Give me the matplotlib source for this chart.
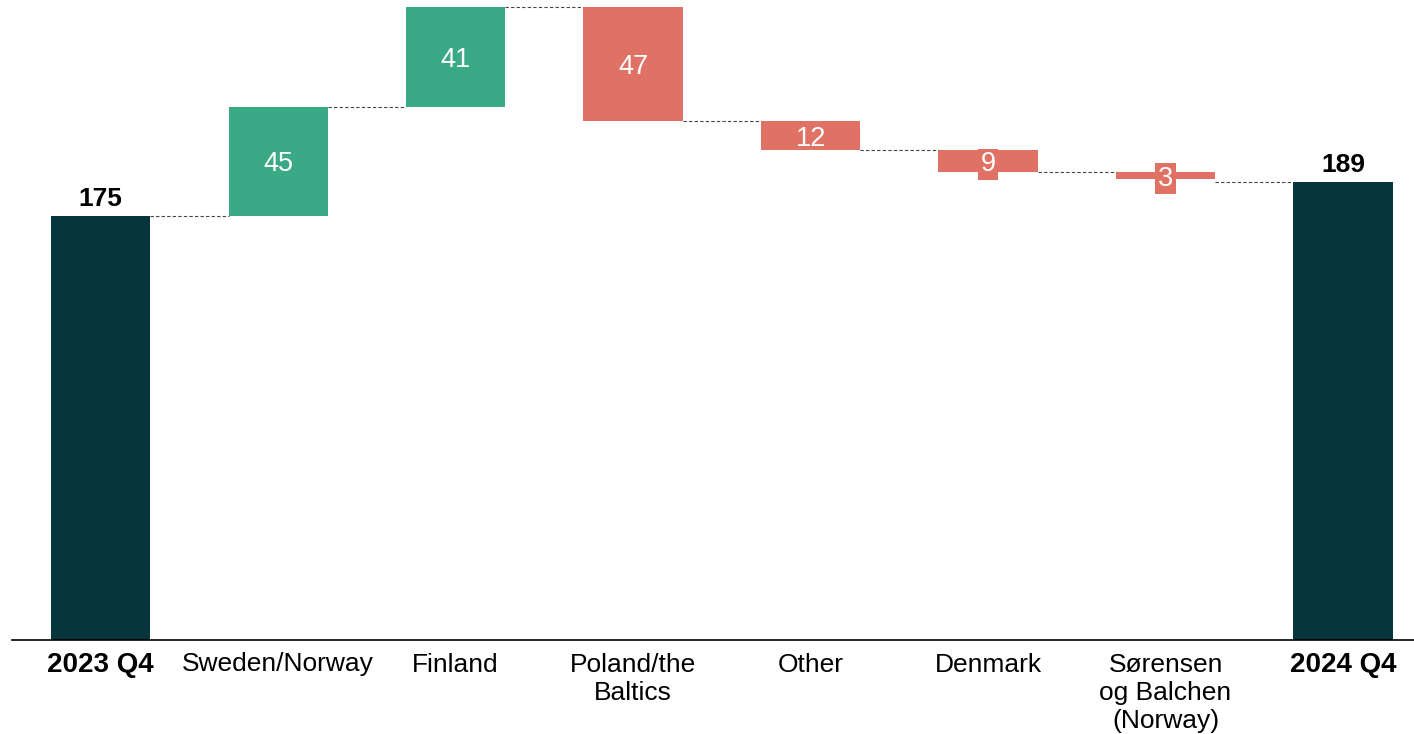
import numpy as np
import matplotlib.pyplot as plt

plt.rcParams['font.family'] = ['Liberation Sans', 'DejaVu Sans']

categories = ['2023 Q4', 'Sweden/Norway', 'Finland', 'Poland/the\nBaltics',
              'Other', 'Denmark', 'Sørensen\nog Balchen\n(Norway)', '2024 Q4']
start_value = 175
changes = [45, 41, -47, -12, -9, -3]
end_value = 189

pos_color = '#3aa986'
neg_color = '#e07165'
total_color = '#06363b'
width = 0.56

fig = plt.figure(figsize=(14.14, 7.34), dpi=100)
ax = fig.add_axes([12 / 1414, 94 / 734, 1 - 12 / 1414, 640 / 734])

x = np.arange(len(categories))

# running levels after each step
levels = [start_value]
for c in changes:
    levels.append(levels[-1] + c)

# totals
for xi, val in [(x[0], start_value), (x[-1], end_value)]:
    ax.bar(xi, val, width=width, color=total_color)
    ax.text(xi, val + 2, str(val), ha='center', va='bottom',
            fontsize=19, fontweight='bold', color='black')

# steps
for i, c in enumerate(changes):
    xi = x[i + 1]
    base = levels[i] if c > 0 else levels[i + 1]
    color = pos_color if c > 0 else neg_color
    ax.bar(xi, abs(c), bottom=base, width=width, color=color)
    mid = base + abs(c) / 2
    box = None
    if abs(c) < 12:
        box = dict(boxstyle='square,pad=0.1', fc=color, ec='none')
    ax.text(xi, mid, str(abs(c)), ha='center', va='center_baseline',
            fontsize=19.5, color='white', bbox=box)

# dashed connectors between neighbouring bars
for i in range(len(categories) - 1):
    y = end_value if i == len(categories) - 2 else levels[i]
    ax.plot([x[i] + width / 2, x[i + 1] - width / 2], [y, y],
            ls=(0, (3, 2)), lw=0.8, color='#444444')

ax.set_xlim(-0.5, 7.4)
ax.set_ylim(0, 264)
ax.set_xticks(x)
ax.set_xticklabels(categories, fontsize=19, linespacing=1.22)
for lbl in (ax.get_xticklabels()[0], ax.get_xticklabels()[-1]):
    lbl.set_fontweight('bold')
    lbl.set_fontsize(20)
ax.tick_params(axis='x', length=0, pad=9)
ax.set_yticks([])
for s in ['top', 'right', 'left']:
    ax.spines[s].set_visible(False)
ax.spines['bottom'].set_linewidth(1.2)

fig.savefig('out.png', dpi=100)
